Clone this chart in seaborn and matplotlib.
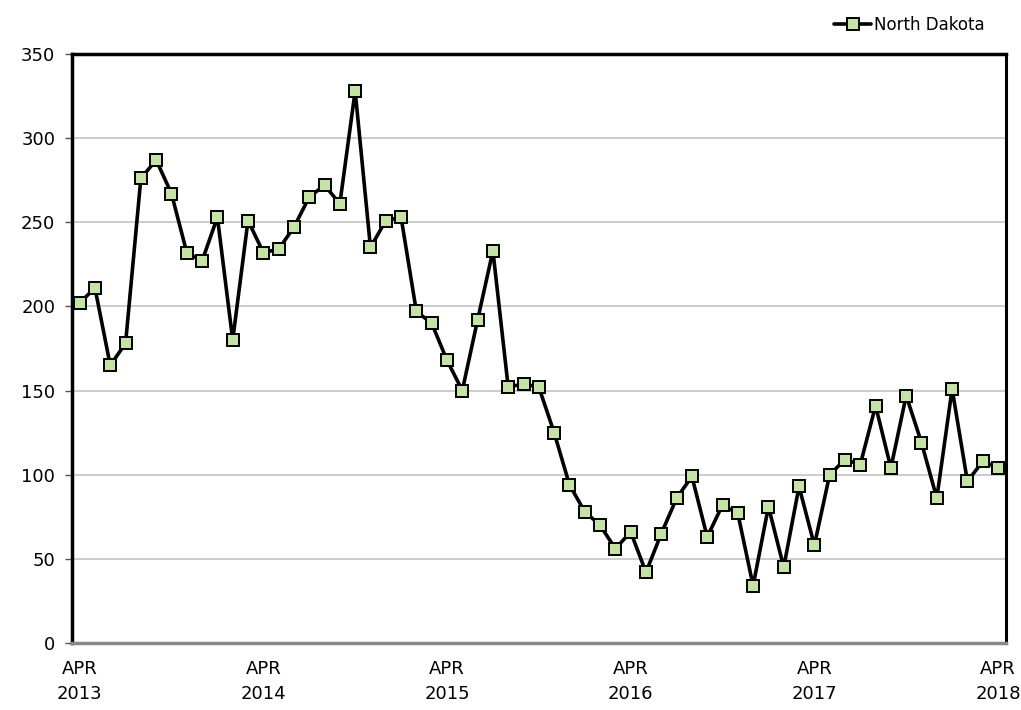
import matplotlib
matplotlib.use("Agg")
import matplotlib.pyplot as plt
import seaborn as sns
import pandas as pd
import numpy as np

# Monthly values, APR 2013 .. APR 2018
north_dakota = [202, 211, 165, 178, 276, 287, 267, 232, 227, 253, 180, 251,
                232, 234, 247, 265, 272, 261, 328, 235, 251, 253, 197, 190,
                168, 150, 192, 233, 152, 154, 152, 125, 94, 78, 70, 56,
                66, 42, 65, 86, 99, 63, 82, 77, 34, 81, 45, 93,
                58, 100, 109, 106, 141, 104, 147, 119, 86, 151, 96, 108,
                104]
series_name = "North Dakota"
xtick_labels = ["APR\n2013", "APR\n2014", "APR\n2015", "APR\n2016", "APR\n2017", "APR\n2018"]
yticks = [0, 50, 100, 150, 200, 250, 300, 350]

df = pd.DataFrame({"idx": np.arange(len(north_dakota)), "value": north_dakota, "series": series_name})

sns.set_style("white")
plt.rcParams["font.family"] = ["DejaVu Sans"]
plt.rcParams["text.color"] = "black"
plt.rcParams["xtick.color"] = "black"
plt.rcParams["ytick.color"] = "black"

fig = plt.figure(figsize=(10.21, 7.10), dpi=100)
ax = fig.add_axes([0.0705, 0.0944, 0.9145, 0.8296])

sns.lineplot(data=df, x="idx", y="value", hue="series", palette=["black"],
             linewidth=2.6, marker="s", markersize=8.2,
             markerfacecolor="#C6E3A6", markeredgecolor="black", markeredgewidth=1.4,
             ax=ax, legend=True)

ax.set_xlim(-0.5, 60.5)
ax.set_ylim(0, 350)
ax.set_yticks(yticks)
ax.set_yticklabels([str(v) for v in yticks], fontsize=13)
ax.set_xticks(np.arange(0, 61, 12))
ax.set_xticklabels(xtick_labels, fontsize=13, linespacing=1.55)
ax.tick_params(axis="x", length=0, pad=12)
ax.tick_params(axis="y", length=5, width=1, color="#555555", direction="out", pad=7, left=True)
ax.set_xlabel("")
ax.set_ylabel("")

for v in yticks[1:-1]:
    ax.axhline(v, color="#c8c8c8", linewidth=1.3, zorder=0)

for side in ["top", "left", "right"]:
    ax.spines[side].set_visible(True)
    ax.spines[side].set_color("black")
ax.spines["top"].set_linewidth(2.5)
ax.spines["left"].set_linewidth(2.5)
ax.spines["right"].set_linewidth(2.2)
ax.spines["bottom"].set_color("#888888")
ax.spines["bottom"].set_linewidth(2.5)

handles, labels = ax.get_legend_handles_labels()
leg = ax.legend(handles, labels, loc="lower right", bbox_to_anchor=(0.985, 1.023),
                frameon=False, fontsize=12, handlelength=2.2, handletextpad=0.2,
                borderaxespad=0)

fig.savefig("out.png", dpi=100)
